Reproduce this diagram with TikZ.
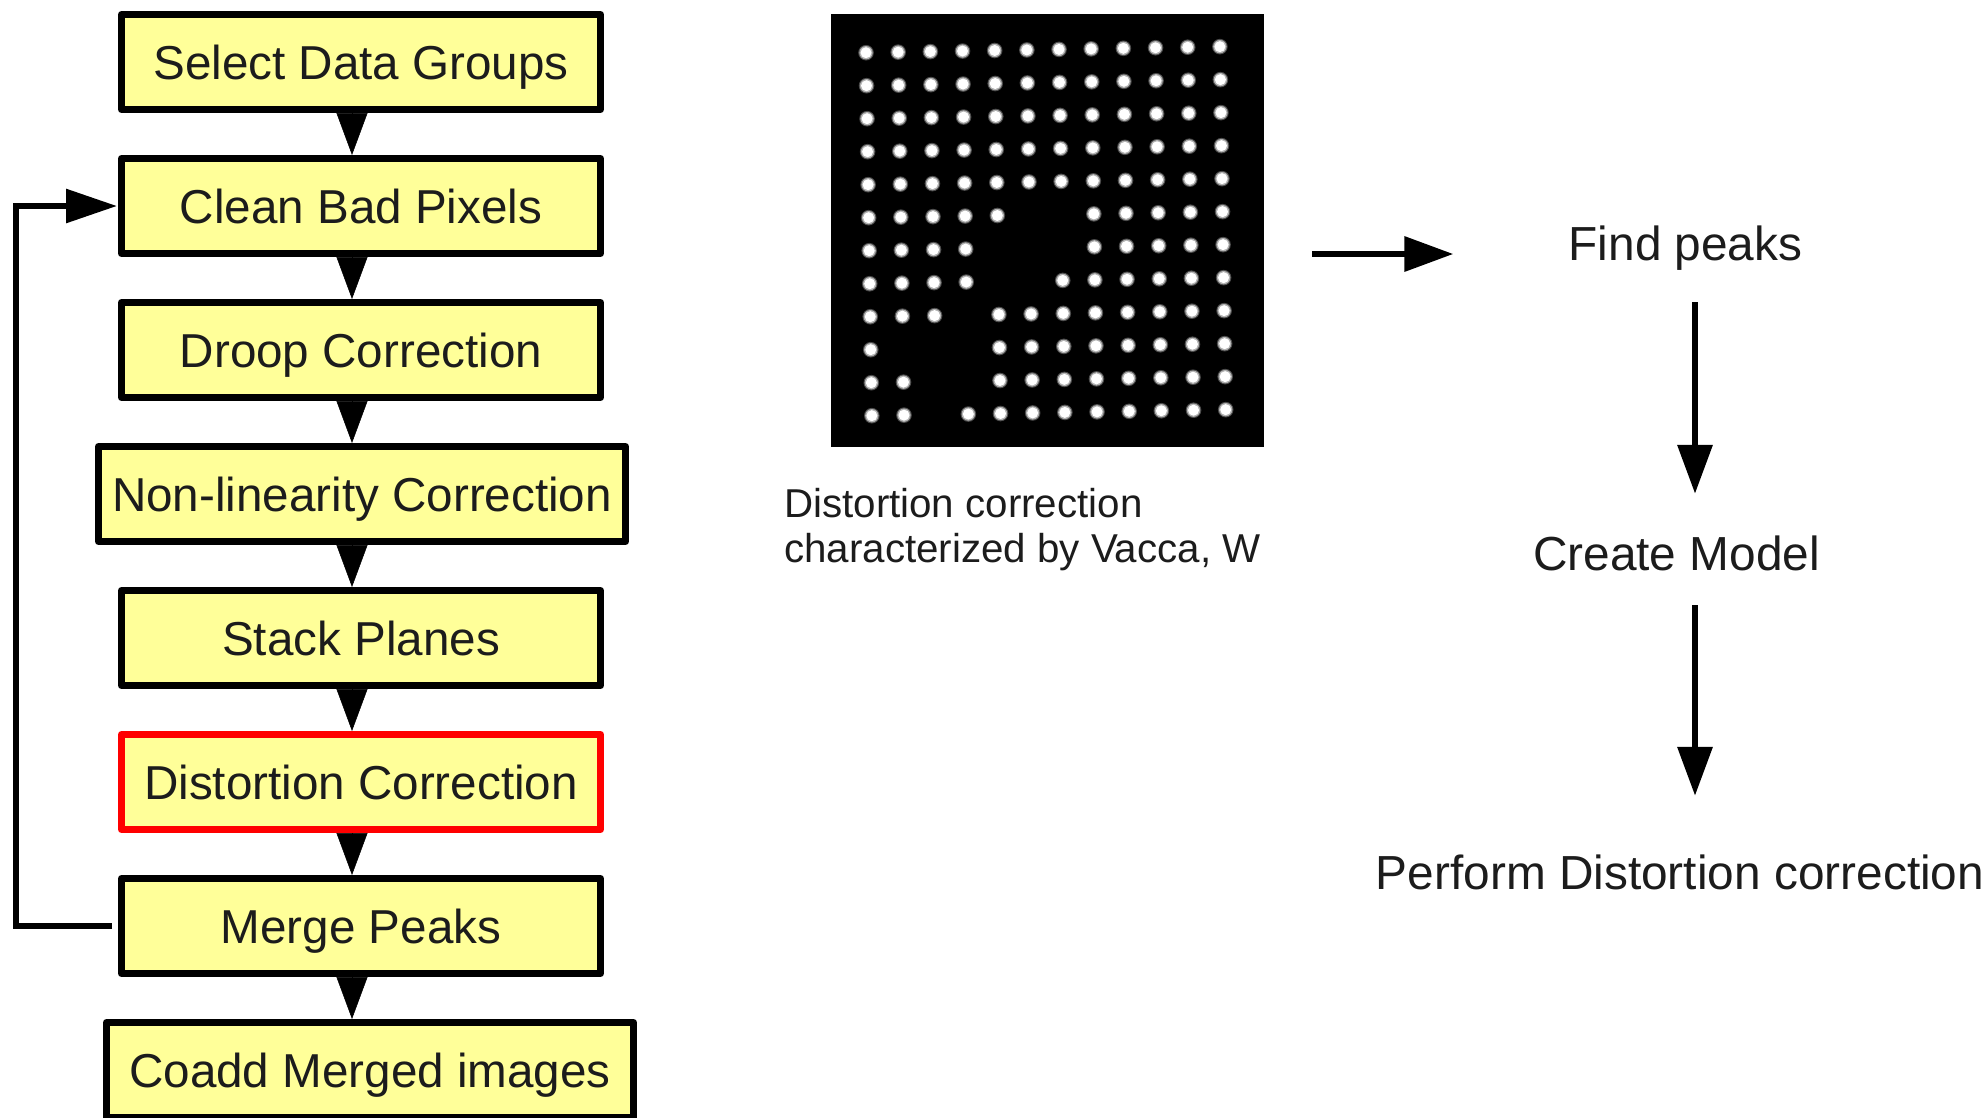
\documentclass[tikz,border=0pt]{standalone}
\usepackage{fontspec}
\setmainfont{Liberation Sans}
\usetikzlibrary{arrows.meta}
\definecolor{boxfill}{HTML}{FFFF99}
\definecolor{txt}{HTML}{1C1C1C}
\definecolor{boxred}{HTML}{FF0000}
\tikzset{
  stepbox/.style={draw=black, fill=boxfill, line width=7pt, line join=round,
    minimum width=479pt, minimum height=95pt, inner sep=0pt,
    text height=44pt, text depth=10pt, text=txt, font=\fontsize{47.6}{57}\selectfont},
  widebox/.style={stepbox, minimum width=527pt},
  redbox/.style={stepbox, draw=boxred},
  plaintext/.style={inner sep=0pt, text height=35pt, text depth=10pt, text=txt,
    font=\fontsize{47.8}{57}\selectfont},
  gaparrow/.style={line width=0.5pt, -{Triangle[length=42pt,width=31pt]}},
  bigarrow/.style={line width=6.5pt, -{Triangle[length=49pt,width=34pt]}},
  looparrow/.style={line width=6pt, line join=miter, -{Triangle[length=51pt,width=33pt]}},
}
\begin{document}
\begin{tikzpicture}[x=1pt,y=-1pt]
\useasboundingbox (0,0) rectangle (1988,1117);
\fill[white] (0,0) rectangle (1988,1117);
\begin{scope}
\clip (0,0) rectangle (1988,1117);
% left flow
\node[stepbox] (s1) at (361,62) {Select Data Groups};
\node[stepbox] (s2) at (361,206) {Clean Bad Pixels};
\node[stepbox] (s3) at (361,350) {Droop Correction};
\node[widebox] (s4) at (362,494) {Non-linearity Correction};
\node[stepbox] (s5) at (361,638) {Stack Planes};
\node[redbox] (s6) at (361,782) {Distortion Correction};
\node[stepbox] (s7) at (361,926) {Merge Peaks};
\node[widebox] (s8) at (370,1070) {Coadd Merged images};
\coordinate (gx) at (352,0);
\foreach \a/\b in {s1/s2,s2/s3,s3/s4,s4/s5,s5/s6,s6/s7,s7/s8}
  \draw[gaparrow] (\a.south -| gx) -- (\b.north -| gx);
\coordinate (lx) at (15.5,0);
\draw[looparrow, shorten <=6pt, shorten >=1pt] (s7.west) -| (lx |- s2.west) -- (s2.west);
\end{scope}
% distortion grid image
\node[fill=black, minimum width=433pt, minimum height=433pt, inner sep=0pt, outer sep=0pt] (img) at (1047.5,230.5) {};
\foreach \r/\cols in {1/{1,...,12},2/{1,...,12},3/{1,...,12},4/{1,...,12},5/{1,...,12},
    6/{1,2,3,4,5,8,9,10,11,12},7/{1,2,3,4,8,9,10,11,12},8/{1,2,3,4,7,8,9,10,11,12},
    9/{1,2,3,5,6,7,8,9,10,11,12},10/{1,5,6,7,8,9,10,11,12},11/{1,2,5,6,7,8,9,10,11,12},
    12/{1,2,4,5,6,7,8,9,10,11,12}}
  \foreach \c in \cols {
    \pgfmathsetmacro\dx{866+(\c-1)*32.17+(\r-1)*0.53}
    \pgfmathsetmacro\dy{52.7+(\r-1)*33-(\c-1)*0.55}
    \fill[white!30!black] (\dx,\dy) circle[radius=7.8pt];
    \fill[white!70!black] (\dx,\dy) circle[radius=6.7pt];
    \fill[white] (\dx,\dy) circle[radius=5.5pt];
  }
\node[anchor=north west, align=left, inner sep=0pt, text=txt,
  font=\fontsize{40.3}{45}\selectfont] (cap) at (784,488.2)
  {Distortion correction\\characterized by Vacca, W};
% right flow
\node[plaintext, anchor=base] (fp) at (1685.5,260) {Find peaks};
\node[plaintext, anchor=base] (cm) at (1676.5,570) {Create Model};
\node[plaintext, anchor=base] (pd) at (1680,889) {Perform Distortion correction};
\coordinate (ax) at (1695,0);
\coordinate (hy) at (0,254);
\draw[bigarrow, shorten <=48pt, shorten >=115pt] (img.east |- hy) -- (fp.west |- hy);
\draw[bigarrow, shorten <=32pt, shorten >=41pt] (fp.south -| ax) -- (cm.north -| ax);
\draw[bigarrow, shorten <=25pt, shorten >=58pt] (cm.south -| ax) -- (pd.north -| ax);
\end{tikzpicture}
\end{document}
